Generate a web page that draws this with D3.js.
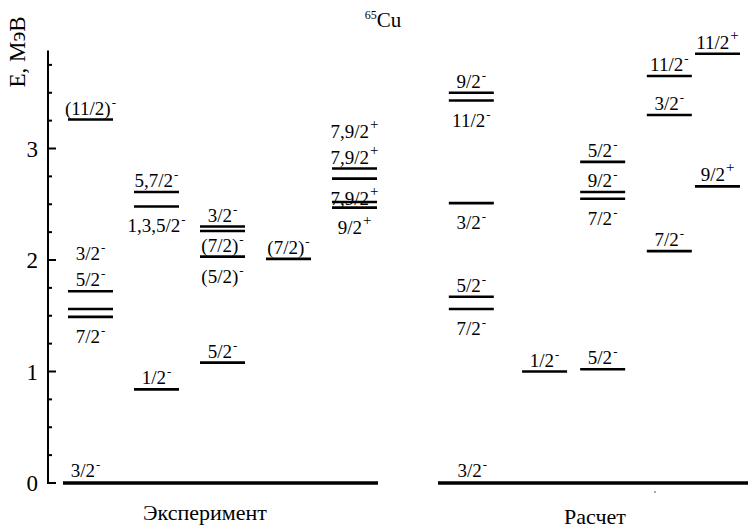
<!DOCTYPE html>
<html>
<head>
<meta charset="utf-8">
<script src="https://cdn.jsdelivr.net/npm/d3@7"></script>
<style>
  body { margin: 0; background: #fff; }
  svg { display: block; }
</style>
</head>
<body>
<div id="chart"></div>
<script>
// level energies (MeV), one array per column
const expLevels = [
  [3.26, 1.72, 1.56, 1.49],
  [2.61, 2.48, 0.84],
  [2.30, 2.26, 2.03, 1.08],
  [2.01],
  [2.82, 2.73, 2.52, 2.47]
]
const calcLevels = [
  [3.50, 3.43, 2.51, 1.67, 1.56],
  [1.00],
  [2.88, 2.61, 2.55, 1.02],
  [3.65, 3.30, 2.08],
  [3.85, 2.66]
]
// labels: [column, level index, spin, parity, side, stack row]
const expLabels = [
  [0, 0, '(11/2)', '-', 'above', 0],
  [0, 1, '3/2', '-', 'above', 1],
  [0, 1, '5/2', '-', 'above', 0],
  [0, 3, '7/2', '-', 'below', 0],
  [1, 0, '5,7/2', '-', 'above', 0],
  [1, 1, '1,3,5/2', '-', 'below', 0],
  [1, 2, '1/2', '-', 'above', 0],
  [2, 0, '3/2', '-', 'above', 0],
  [2, 2, '(7/2)', '-', 'above', 0],
  [2, 2, '(5/2)', '-', 'below', 0],
  [2, 3, '5/2', '-', 'above', 0],
  [3, 0, '(7/2)', '-', 'above', 0],
  [4, 0, '7,9/2', '+', 'above', 1],
  [4, 0, '7,9/2', '+', 'above', 0],
  [4, 1, '7,9/2', '+', 'below', 0],
  [4, 3, '9/2', '+', 'below', 0]
]
const calcLabels = [
  [0, 0, '9/2', '-', 'above', 0],
  [0, 1, '11/2', '-', 'below', 0],
  [0, 2, '3/2', '-', 'below', 0],
  [0, 3, '5/2', '-', 'above', 0],
  [0, 4, '7/2', '-', 'below', 0],
  [1, 0, '1/2', '-', 'above', 0],
  [2, 0, '5/2', '-', 'above', 0],
  [2, 1, '9/2', '-', 'above', 0],
  [2, 2, '7/2', '-', 'below', 0],
  [2, 3, '5/2', '-', 'above', 0],
  [3, 0, '11/2', '-', 'above', 0],
  [3, 1, '3/2', '-', 'above', 0],
  [3, 2, '7/2', '-', 'above', 0],
  [4, 0, '11/2', '+', 'above', 0],
  [4, 1, '9/2', '+', 'above', 0]
]
const groundSpin = '3/2'
const groundParity = '-'
const yTicks = [0, 1, 2, 3]
const panelTitles = ['Эксперимент', 'Расчет']

// layout
const width = 748, height = 528
const expSlots = [0, 1, 2, 3, 4]
const calcSlots = [5.77, 6.88, 7.76, 8.77, 9.5]
const halfLevel = 22.5
const serif = 'Liberation Serif'

var svg = d3.select('#chart').append('svg')
  .attr('width', width).attr('height', height)

function addText(parent) {
  return parent.append('text').attr('font-family', serif).attr('fill', '#000')
}

var y = d3.scaleLinear().domain([0, 1]).range([483, 371.5])
var x = d3.scaleLinear().domain([0, 1]).range([90.5, 156.5])

// axis
var axisX = 48
var axis = svg.append('g').attr('transform', 'translate(' + axisX + ',0)')
axis.append('line')
  .attr('x1', 0).attr('x2', 0)
  .attr('y1', y(0) + 1).attr('y2', y(3.88))
  .attr('stroke', '#000').attr('stroke-width', 2)
var minor = d3.range(0, 3.8, 0.25)
axis.selectAll('.tick')
  .data(minor)
  .enter().append('line')
  .attr('x1', 0)
  .attr('x2', d => (d % 1 === 0 ? 8 : 4))
  .attr('y1', d => y(d)).attr('y2', d => y(d))
  .attr('stroke', '#000').attr('stroke-width', 2)
yTicks.forEach(function(t) {
  addText(axis)
    .attr('x', -10).attr('y', y(t) + 8)
    .attr('text-anchor', 'end')
    .attr('font-size', 23)
    .text(t)
})

addText(svg)
  .attr('transform', 'translate(25,52) rotate(-90)')
  .attr('text-anchor', 'middle')
  .attr('font-size', 23)
  .text('E, МэВ')

// title
var title = addText(svg)
  .attr('x', 383).attr('y', 27)
  .attr('text-anchor', 'middle')
title.append('tspan').attr('font-size', 12).attr('dy', -8).text('65')
title.append('tspan').attr('font-size', 21).attr('dy', 8).text('Cu')

function drawLabel(cx, baseline, spin, parity) {
  var t = addText(svg)
    .attr('x', cx).attr('y', baseline)
    .attr('text-anchor', 'middle')
    .attr('font-size', 19)
  t.append('tspan').text(spin)
  t.append('tspan')
    .attr('font-size', parity === '+' ? 15 : 13)
    .attr('dx', 1)
    .attr('dy', parity === '+' ? -9 : -8)
    .text(parity)
}

function drawPanel(levels, labels, slots, groundFrom, groundTo, groundShift) {
  levels.forEach(function(col, i) {
    svg.selectAll(null)
      .data(col)
      .enter().append('line')
      .attr('x1', x(slots[i]) - halfLevel)
      .attr('x2', x(slots[i]) + halfLevel)
      .attr('y1', d => y(d)).attr('y2', d => y(d))
      .attr('stroke', '#000').attr('stroke-width', 2.6)
  })
  labels.forEach(function(l) {
    var e = levels[l[0]][l[1]]
    var base = l[4] === 'above' ? y(e) - 5 - l[5] * 26 : y(e) + 26 + l[5] * 26
    drawLabel(x(slots[l[0]]), base, l[2], l[3])
  })
  // ground state
  svg.append('line')
    .attr('x1', groundFrom).attr('x2', groundTo)
    .attr('y1', y(0)).attr('y2', y(0))
    .attr('stroke', '#000').attr('stroke-width', 3.5)
  drawLabel(x(slots[0]) + groundShift, y(0) - 6, groundSpin, groundParity)
}

drawPanel(expLevels, expLabels, expSlots, 63, 378, -5)
drawPanel(calcLevels, calcLabels, calcSlots, 438, 748, 1)

addText(svg)
  .attr('x', 205).attr('y', 520)
  .attr('text-anchor', 'middle')
  .attr('font-size', 22)
  .text(panelTitles[0])
addText(svg)
  .attr('x', 595).attr('y', 524)
  .attr('text-anchor', 'middle')
  .attr('font-size', 22)
  .text(panelTitles[1])

svg.append('circle').attr('cx', 655).attr('cy', 492).attr('r', 0.8).attr('fill', '#444')
</script>
</body>
</html>
